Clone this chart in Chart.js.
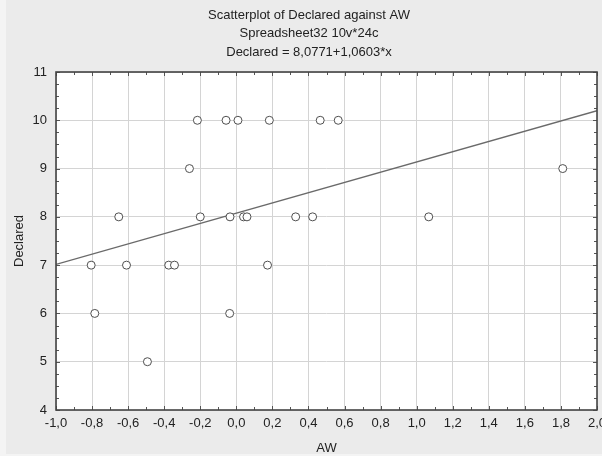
<!DOCTYPE html>
<html>
<head>
<meta charset="utf-8">
<script src="https://cdn.jsdelivr.net/npm/chart.js@4"></script>
<style>
  html, body { margin: 0; padding: 0; background: #f4f4f4; }
  #wrap { width: 602px; height: 456px; }
</style>
</head>
<body>
<div id="wrap"><canvas id="scatter" width="602" height="456"></canvas></div>
<script>
// AW values grouped by their Declared score
const awValues = [
    -0.216, -0.057, 0.009, 0.183, 0.465, 0.565,
    -0.26, 1.81,
    -0.652, -0.2, -0.035, 0.04, 0.059, 0.329, 0.423, 1.067,
    -0.805, -0.609, -0.375, -0.343, 0.173,
    -0.785, -0.037,
    -0.493
];
const declaredValues = [
    10, 10, 10, 10, 10, 10,
    9, 9,
    8, 8, 8, 8, 8, 8, 8, 8,
    7, 7, 7, 7, 7,
    6, 6,
    5
];
const fitIntercept = 8.0771;
const fitSlope = 1.0603;
const xRange = [-1.0, 2.0];
const yRange = [4, 11];
const titleLines = [
    "Scatterplot of Declared against AW",
    "Spreadsheet32 10v*24c",
    "Declared = 8,0771+1,0603*x"
];

const points = awValues.map((x, i) => ({ x: x, y: declaredValues[i] }));
const fitLine = xRange.map(x => ({ x: x, y: fitIntercept + fitSlope * x }));

const commaFmt = v => v.toFixed(1).replace('.', ',');
const fontFamily = 'Liberation Sans, Arial, sans-serif';

// grey panel, white plot area, dark frame with inward ticks, and the title block
const framePlugin = {
    id: 'frame',
    beforeDraw(chart) {
        const { ctx, chartArea: a } = chart;
        ctx.save();
        ctx.fillStyle = '#ebebeb';
        ctx.fillRect(6, 0, chart.width - 6, chart.height - 2);
        ctx.fillStyle = '#ffffff';
        ctx.fillRect(a.left, a.top, a.right - a.left, a.bottom - a.top);
        ctx.fillStyle = '#222222';
        ctx.font = '13px ' + fontFamily;
        ctx.textAlign = 'center';
        ctx.textBaseline = 'middle';
        titleLines.forEach((t, i) => ctx.fillText(t, 309, 15 + i * 18.5));
        ctx.restore();
    },
    afterDraw(chart) {
        const { ctx, chartArea: a, scales } = chart;
        ctx.save();
        ctx.strokeStyle = '#555555';
        ctx.lineWidth = 1;
        ctx.beginPath();
        for (let i = 0; i <= 30; i++) {
            const px = Math.round(scales.x.getPixelForValue(xRange[0] + i * 0.1)) + 0.5;
            const len = i % 2 === 0 ? 4 : 3;
            ctx.moveTo(px, a.bottom); ctx.lineTo(px, a.bottom - len);
            ctx.moveTo(px, a.top); ctx.lineTo(px, a.top + len);
        }
        for (let i = 0; i <= 28; i++) {
            const py = Math.round(scales.y.getPixelForValue(yRange[0] + i * 0.25)) + 0.5;
            const len = i % 4 === 0 ? 4 : 3;
            ctx.moveTo(a.left, py); ctx.lineTo(a.left + len, py);
            ctx.moveTo(a.right, py); ctx.lineTo(a.right - len, py);
        }
        ctx.stroke();
        ctx.strokeStyle = '#444444';
        ctx.lineWidth = 1.6;
        ctx.strokeRect(a.left, a.top, a.right - a.left, a.bottom - a.top);
        ctx.restore();
    }
};

new Chart(document.getElementById('scatter'), {
    type: 'scatter',
    data: {
        datasets: [
            {
                type: 'line',
                data: fitLine,
                borderColor: '#6a6a6a',
                borderWidth: 1.3,
                pointRadius: 0,
                fill: false,
                order: 2
            },
            {
                data: points,
                pointStyle: 'circle',
                pointRadius: 4,
                borderWidth: 1,
                borderColor: '#505050',
                backgroundColor: '#ffffff',
                order: 1
            }
        ]
    },
    options: {
        responsive: false,
        animation: false,
        layout: { padding: { left: 4, right: 5, top: 72, bottom: 0 } },
        plugins: {
            legend: { display: false },
            tooltip: { enabled: false },
            title: { display: false }
        },
        scales: {
            x: {
                type: 'linear',
                min: xRange[0],
                max: xRange[1],
                grid: { color: '#d4d4d4', lineWidth: 1, drawTicks: false },
                border: { display: false },
                ticks: {
                    stepSize: 0.2,
                    padding: 6,
                    color: '#222222',
                    font: { family: fontFamily, size: 13 },
                    maxRotation: 0,
                    callback: v => commaFmt(v)
                },
                title: {
                    display: true,
                    text: 'AW',
                    color: '#222222',
                    font: { family: fontFamily, size: 13 },
                    padding: { top: 5, bottom: 0 }
                },
                afterFit(scale) {
                    scale.height = 46;
                    scale.paddingLeft = 0;
                    scale.paddingRight = 0;
                }
            },
            y: {
                min: yRange[0],
                max: yRange[1],
                grid: { color: '#d4d4d4', lineWidth: 1, drawTicks: false },
                border: { display: false },
                ticks: {
                    stepSize: 1,
                    padding: 9,
                    color: '#222222',
                    font: { family: fontFamily, size: 13 }
                },
                title: {
                    display: true,
                    text: 'Declared',
                    color: '#222222',
                    font: { family: fontFamily, size: 13 },
                    padding: { top: 8, bottom: 0 }
                },
                afterFit(scale) {
                    scale.width = 52;
                    scale.paddingTop = 0;
                    scale.paddingBottom = 0;
                }
            }
        }
    },
    plugins: [framePlugin]
});
</script>
</body>
</html>
